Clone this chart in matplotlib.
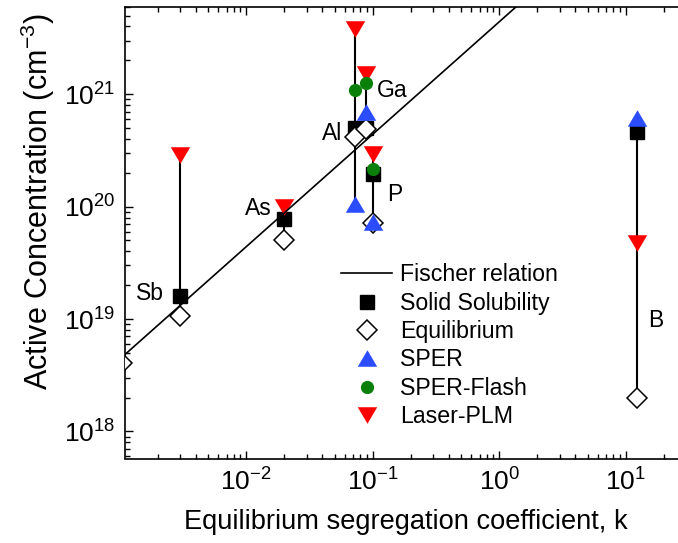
#!/usr/bin/env python3

import numpy as np
import matplotlib
matplotlib.use("Agg")
import matplotlib.pyplot as plt

plt.rcParams['font.family'] = ['Liberation Sans', 'DejaVu Sans']
plt.rcParams['mathtext.fontset'] = 'custom'
plt.rcParams['mathtext.rm'] = 'Liberation Sans'
plt.rcParams['mathtext.it'] = 'Liberation Sans:italic'
plt.rcParams['axes.unicode_minus'] = False

# data (nan = no point)
nan = np.nan
elements = ['', 'Sb', 'As', 'Al', 'Ga', 'P', 'B']
k = [0.00105, 0.003, 0.02, 0.073, 0.088, 0.1, 12.2]
solid = [nan, 1.6e19, 7.7e19, 5.0e20, 5.0e20, 1.95e20, 4.6e20]
equil = [4.1e18, 1.06e19, 5.0e19, 4.2e20, 4.9e20, 7.1e19, 2.0e18]
sper = [nan, nan, nan, 1.06e20, 6.9e20, 7.3e19, 6.1e20]
flash = [nan, nan, nan, 1.08e21, 1.27e21, 2.15e20, nan]
laser = [nan, 2.9e20, 1.0e20, 3.8e21, 1.5e21, 2.95e20, 4.7e19]

fischer_k = [1e-4, 100]
fischer_c = [4.4e17, 4.4e23]

# label offsets (points) from the solid solubility point
label_offsets = {'Sb': (-22, 2), 'As': (-19, 8), 'Al': (-17, -4),
                 'Ga': (19, 27), 'P': (16, -15), 'B': (14, -136)}

def main():
    fig = plt.figure(figsize=(6.78, 5.43), dpi=100)
    ax = fig.add_axes([125/678, 1-458.5/543, 561/678, 451.8/543])
    ax.set_xscale('log')
    ax.set_yscale('log')

    series = np.array([solid, equil, sper, flash, laser], dtype=float)
    for i, kk in enumerate(k):
        col = series[:, i]
        col = col[~np.isnan(col)]
        if len(col) > 1:
            ax.plot([kk, kk], [col.min(), col.max()], color='black', lw=1.5, zorder=2)

    ax.plot(fischer_k, fischer_c, color='black', lw=1.2, zorder=8,
            label='Fischer relation')

    tri_dn = [(-1, 0.85), (1, 0.85), (0, -0.85)]
    tri_up = [(-1, -0.85), (1, -0.85), (0, 0.85)]
    ax.plot(k, solid, ls='none', marker='s', ms=10, color='black',
            zorder=3, label='Solid Solubility')
    ax.plot(k, equil, ls='none', marker='D', ms=10, mfc='white', mec='black',
            mew=1.1, zorder=4, label='Equilibrium')
    ax.plot(k, sper, ls='none', marker=tri_up, ms=14, color='#2b4cff',
            mew=0, zorder=5, label='SPER')
    ax.plot(k, flash, ls='none', marker='o', ms=9.5, color='#0a800a',
            mew=0, zorder=7, label='SPER-Flash')
    ax.plot(k, laser, ls='none', marker=tri_dn, ms=14, color='#ff0000',
            mew=0, zorder=6, label='Laser-PLM')

    for i, name in enumerate(elements):
        if name in label_offsets:
            ax.annotate(name, (k[i], solid[i]), xytext=label_offsets[name],
                        textcoords='offset points', ha='center', va='center',
                        fontsize=16.5)

    ax.set_xlim(0.0011, 30)
    ax.set_ylim(5.75e17, 6e21)
    ax.set_xlabel('Equilibrium segregation coefficient, k', fontsize=19.6, labelpad=10)
    ax.set_ylabel('Active Concentration (cm$^{-3}$)', fontsize=22)
    ax.yaxis.set_label_coords(-0.121, 0.568)
    ax.tick_params(which='both', direction='in', top=True, right=True,
                   labelsize=19, width=1)
    ax.tick_params(which='major', length=6, pad=7)
    ax.tick_params(which='minor', length=3.5)
    for s in ax.spines.values():
        s.set_linewidth(1.2)

    ax.legend(loc='upper left', bbox_to_anchor=(0.3845, 0.432), frameon=False,
              fontsize=16.7, borderpad=0, borderaxespad=0, handlelength=2.23,
              handletextpad=0.33, labelspacing=0.23)

    fig.savefig('out.png', dpi=100)

if __name__ == "__main__":
    main()
